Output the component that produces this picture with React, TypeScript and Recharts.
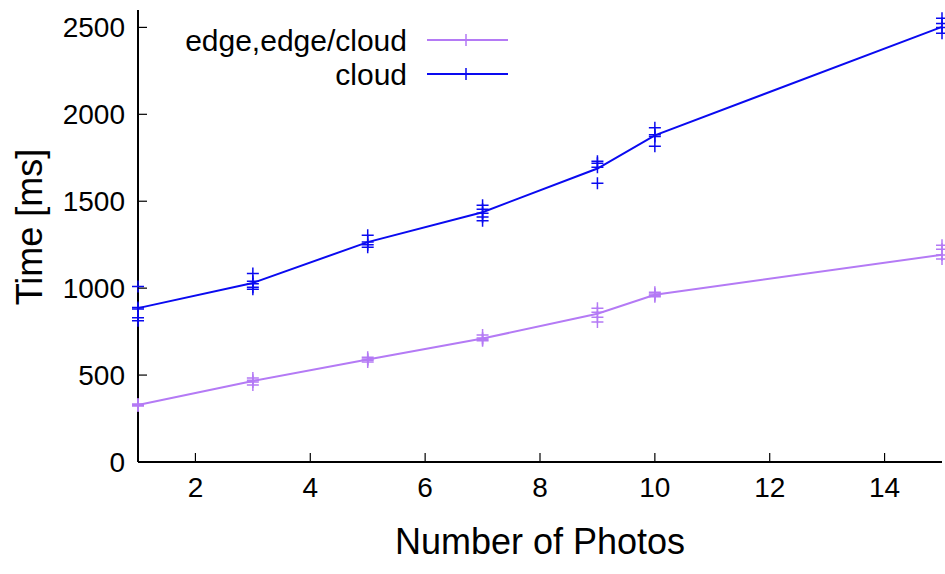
import { ComposedChart, Line, Scatter, XAxis, YAxis } from 'recharts'

// x positions (number of photos)
const photos = [1, 3, 5, 7, 9, 10, 15]

// averaged time per setup [ms]
const edgeMean = [328, 466, 589, 710, 853, 962, 1192]
const cloudMean = [885, 1030, 1265, 1437, 1688, 1879, 2503]

// individual runs, one list per x position
const edgeRuns = [
  [333, 329, 326, 322],
  [483, 470, 460, 443],
  [603, 592, 586, 575],
  [730, 713, 705, 698],
  [885, 862, 833, 805],
  [977, 966, 958, 950],
  [1247, 1224, 1190, 1167],
]
const cloudRuns = [
  [1010, 888, 880, 830, 812],
  [1085, 1040, 1025, 1005, 993],
  [1305, 1265, 1250, 1236],
  [1477, 1454, 1431, 1410, 1388],
  [1730, 1718, 1695, 1603],
  [1922, 1882, 1872, 1816],
  [2552, 2523, 2500, 2466],
]

const xTicks = [2, 4, 6, 8, 10, 12, 14]
const yTicks = [0, 500, 1000, 1500, 2000, 2500]

const EDGE = '#b47af5'
const CLOUD = '#0a0af0'
const FONT = '"Liberation Sans", Arial, sans-serif'

const toLine = (vals: number[]) => photos.map((x, i) => ({ x, y: vals[i] }))
const toPoints = (runs: number[][]) =>
  runs.flatMap((r, i) => r.map((y) => ({ x: photos[i], y })))

const Plus = ({ cx, cy, color }: any) => (
  <path
    d={`M${cx - 6},${cy}h12M${cx},${cy - 6}v12`}
    stroke={color}
    strokeWidth={1.5}
    fill="none"
  />
)

const BottomTick = ({ x, y, payload }: any) => (
  <g>
    <line x1={x} x2={x} y1={y} y2={y - 9} stroke="#000" strokeWidth={1.2} />
    <text x={x} y={y + 35} textAnchor="middle" fontSize={28} fontFamily={FONT} fill="#000">
      {payload.value}
    </text>
  </g>
)
const TopTick = ({ x, y }: any) => (
  <line x1={x} x2={x} y1={y} y2={y + 9} stroke="#000" strokeWidth={1.2} />
)
const LeftTick = ({ x, y, payload }: any) => (
  <g>
    <line x1={x} x2={x + 9} y1={y} y2={y} stroke="#000" strokeWidth={1.2} />
    <text x={x - 13} y={y + 10} textAnchor="end" fontSize={28} fontFamily={FONT} fill="#000">
      {payload.value}
    </text>
  </g>
)
const RightTick = ({ x, y }: any) => (
  <line x1={x} x2={x - 9} y1={y} y2={y} stroke="#000" strokeWidth={1.2} />
)

export default function App() {
  const axisLine = { stroke: '#000', strokeWidth: 2 }
  return (
    <div style={{ position: 'absolute', left: 0, top: 0, width: 945, height: 574, background: '#fff' }}>
      <ComposedChart width={945} height={574} margin={{ top: 10, right: 3, bottom: 0, left: 78 }}>
        <XAxis
          xAxisId="b"
          type="number"
          dataKey="x"
          domain={[1, 15]}
          ticks={xTicks}
          height={112}
          tickSize={0}
          tickMargin={0}
          tickLine={false}
          axisLine={axisLine}
          tick={<BottomTick />}
        />
        <XAxis
          xAxisId="t"
          orientation="top"
          type="number"
          dataKey="x"
          domain={[1, 15]}
          ticks={xTicks}
          height={0}
          tickSize={0}
          tickMargin={0}
          tickLine={false}
          axisLine={axisLine}
          tick={<TopTick />}
        />
        <YAxis
          yAxisId="l"
          type="number"
          domain={[0, 2600]}
          ticks={yTicks}
          width={60}
          tickSize={0}
          tickMargin={0}
          tickLine={false}
          axisLine={axisLine}
          tick={<LeftTick />}
        />
        <YAxis
          yAxisId="r"
          orientation="right"
          type="number"
          domain={[0, 2600]}
          ticks={yTicks}
          width={0}
          tickSize={0}
          tickMargin={0}
          tickLine={false}
          axisLine={axisLine}
          tick={<RightTick />}
        />
        <Line
          xAxisId="b"
          yAxisId="l"
          data={toLine(edgeMean)}
          dataKey="y"
          stroke={EDGE}
          strokeWidth={2}
          dot={false}
          isAnimationActive={false}
        />
        <Line
          xAxisId="b"
          yAxisId="l"
          data={toLine(cloudMean)}
          dataKey="y"
          stroke={CLOUD}
          strokeWidth={2}
          dot={false}
          isAnimationActive={false}
        />
        <Scatter
          xAxisId="b"
          yAxisId="l"
          data={toPoints(edgeRuns)}
          dataKey="y"
          shape={(p: any) => <Plus cx={p.cx} cy={p.cy} color={EDGE} />}
          isAnimationActive={false}
        />
        <Scatter
          xAxisId="b"
          yAxisId="l"
          data={toPoints(cloudRuns)}
          dataKey="y"
          shape={(p: any) => <Plus cx={p.cx} cy={p.cy} color={CLOUD} />}
          isAnimationActive={false}
        />
      </ComposedChart>
      <svg
        width={945}
        height={574}
        style={{ position: 'absolute', left: 0, top: 0, pointerEvents: 'none' }}
        fontFamily={FONT}
      >
        <text x={540} y={554} textAnchor="middle" fontSize={36} fill="#000">
          Number of Photos
        </text>
        <text
          x={0}
          y={0}
          transform="translate(42,227) rotate(-90)"
          textAnchor="middle"
          fontSize={36}
          fill="#000"
        >
          Time [ms]
        </text>
        <text x={407} y={51} textAnchor="end" fontSize={30} fill="#000">
          edge,edge/cloud
        </text>
        <line x1={427} x2={508} y1={40} y2={40} stroke={EDGE} strokeWidth={2} />
        <Plus cx={466} cy={40} color={EDGE} />
        <text x={407} y={85} textAnchor="end" fontSize={30} fill="#000">
          cloud
        </text>
        <line x1={427} x2={508} y1={74} y2={74} stroke={CLOUD} strokeWidth={2} />
        <Plus cx={466} cy={74} color={CLOUD} />
      </svg>
    </div>
  )
}
